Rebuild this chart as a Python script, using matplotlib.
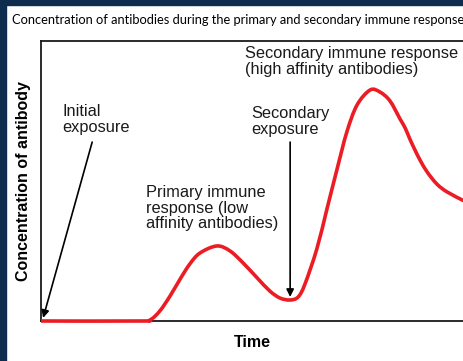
import numpy as np
import matplotlib
matplotlib.use("Agg")
import matplotlib.pyplot as plt
from matplotlib.patches import Rectangle, PathPatch
from matplotlib.path import Path

# time (arbitrary units, 0-100) and antibody concentration (0-100)
time = [0, 23.4, 25.8, 28.1, 30.5, 32.9, 35.2, 37.6, 41.6, 44.7, 47.8, 51.1,
        54.1, 56.5, 58.9, 60.8, 62.4, 65.2, 67.6, 70.0, 72.3, 74.7, 77.8,
        80.1, 82.5, 84.9, 86.1, 87.2, 88.4, 89.6, 91.3, 93.6, 96.0, 100]
conc = [0, 0, 0.4, 3.6, 8.9, 15.0, 20.4, 24.3, 26.8, 25.0, 20.7, 15.4,
        10.7, 8.2, 7.5, 8.6, 13.2, 25.7, 40.0, 54.3, 67.5, 77.1, 82.5,
        81.8, 78.6, 72.1, 68.9, 65.0, 61.1, 57.5, 53.2, 48.9, 46.1, 42.9]

title = "Concentration of antibodies during the primary and secondary immune response"
xlabel = "Time"
ylabel = "Concentration of antibody"

NAVY = "#0e2c4e"
RED = "#ec1c24"


def smooth_path(x, y):
    # Catmull-Rom through the read points, drawn as cubic Bezier segments
    P = np.column_stack([x, y]).astype(float)
    E = np.vstack([P[0], P, P[-1]])
    verts, codes = [P[0]], [Path.MOVETO]
    for i in range(len(P) - 1):
        p0, p1, p2, p3 = E[i], E[i + 1], E[i + 2], E[i + 3]
        verts += [p1 + (p2 - p0) / 6, p2 - (p3 - p1) / 6, p2]
        codes += [Path.CURVE4] * 3
    return Path(verts, codes)


fig = plt.figure(figsize=(4.64, 3.61), dpi=100)
fig.patch.set_facecolor("white")
# navy frame on the left and top edges
fig.patches.append(Rectangle((0, 0), 6 / 464, 1, transform=fig.transFigure,
                             color=NAVY, zorder=0))
fig.patches.append(Rectangle((0, 1 - 5 / 361), 1, 5 / 361,
                             transform=fig.transFigure, color=NAVY, zorder=0))

fig.text(12 / 464, 1 - 20 / 361, title, family="Lato", fontsize=9.3,
         va="center", ha="left", color="black")

ax = fig.add_axes([41 / 464, 40 / 361, (464 - 41) / 464, 280 / 361])
ax.add_patch(PathPatch(smooth_path(time, conc), fill=False, edgecolor=RED,
                       lw=2.6, capstyle="butt", joinstyle="round",
                       clip_on=False, zorder=3))
ax.set_xlim(0, 100)
ax.set_ylim(0, 100)
ax.spines["right"].set_visible(False)
for s in ("left", "top", "bottom"):
    ax.spines[s].set_linewidth(1.3)
    ax.spines[s].set_color("#1a1a1a")
ax.set_xticks([])
ax.set_yticks([])

font = dict(family="Liberation Sans", fontsize=11.8, color="#1a1a1a",
            linespacing=1.05)
ax.set_xlabel(xlabel, fontsize=11.5, fontweight="bold",
              family="Liberation Sans", labelpad=10)
ax.set_ylabel(ylabel, fontsize=11.5, fontweight="bold",
              family="Liberation Sans", labelpad=7)

ax.text(5.0, 77.5, "Initial\nexposure", va="top", ha="left", **font)
ax.text(49.6, 76.8, "Secondary\nexposure", va="top", ha="left", **font)
ax.text(48.2, 98.2, "Secondary immune response\n(high affinity antibodies)",
        va="top", ha="left", **font)
ax.text(24.8, 48.6, "Primary immune\nresponse (low\naffinity antibodies)",
        va="top", ha="left", **font)

arrow = dict(arrowstyle="-|>", color="black", lw=1.2, mutation_scale=11,
             shrinkA=0, shrinkB=0)
ax.annotate("", xy=(0.5, 1.1), xytext=(12.1, 63.9), arrowprops=arrow)
ax.annotate("", xy=(58.9, 8.6), xytext=(58.9, 63.9), arrowprops=arrow)

fig.savefig("out.png", dpi=100)
